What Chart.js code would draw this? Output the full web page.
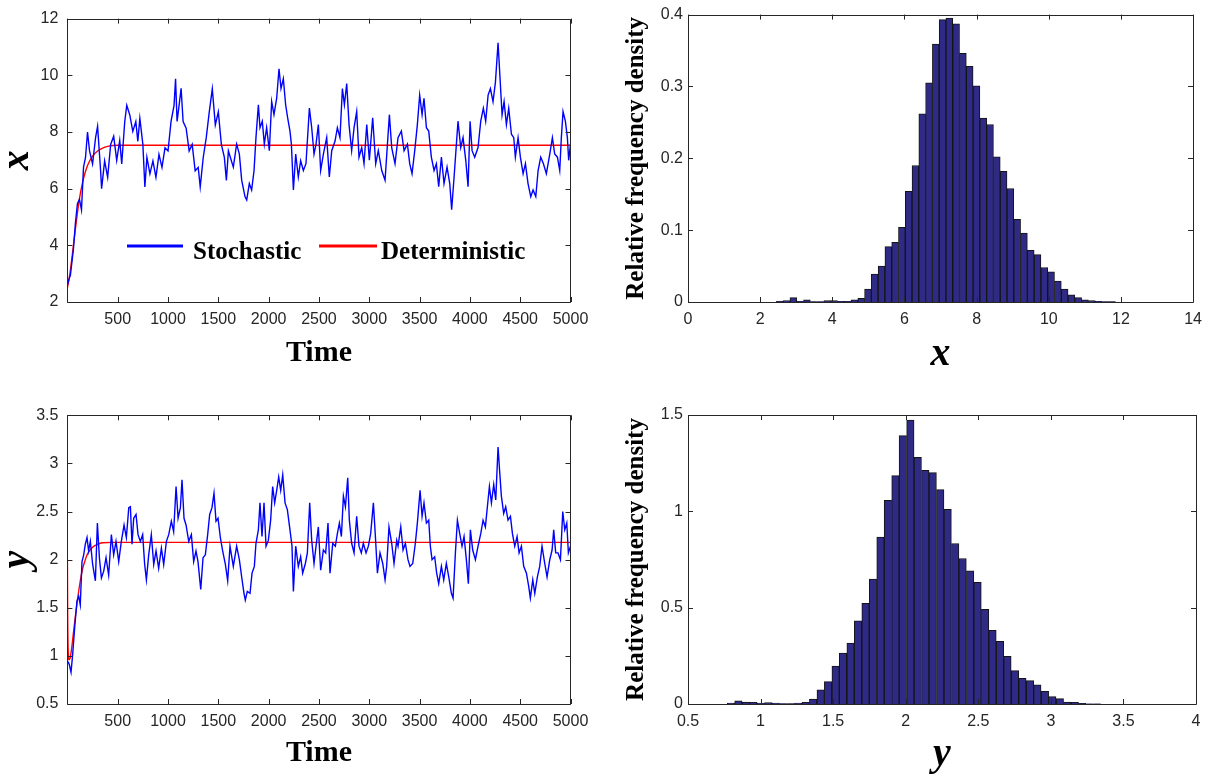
<!DOCTYPE html>
<html>
<head>
<meta charset="utf-8">
<script src="https://cdn.jsdelivr.net/npm/chart.js@4.4.1/dist/chart.umd.min.js"></script>
<style>
  body { margin: 0; background: #fff; }
  #wrap { position: relative; width: 1210px; height: 782px; background: #fff; }
  canvas { position: absolute; }
</style>
</head>
<body>
<div id="wrap">
  <canvas id="serieX" width="605" height="391" style="left:0;top:0"></canvas>
  <canvas id="histX" width="605" height="391" style="left:605px;top:0"></canvas>
  <canvas id="serieY" width="605" height="391" style="left:0;top:391px"></canvas>
  <canvas id="histY" width="605" height="391" style="left:605px;top:391px"></canvas>
</div>
<script>
// Serie x (estocástica)
const tX = [0,20,30,60,80,100,120,140,160,180,200,220,250,280,300,330,340,370,400,430,460,490,520,540,570,590,620,650,680,700,720,750,770,790,820,850,880,910,940,970,1000,1030,1060,1075,1090,1110,1130,1150,1180,1210,1240,1270,1300,1320,1350,1380,1410,1440,1470,1500,1530,1560,1580,1600,
  1649,1682,1709,1732,1765,1782,1808,1831,1855,1874,1898,1914,1937,1957,1980,2007,2030,2053,2080,2103,2123,2146,2169,2189,2212,2226,2246,2269,2295,2318,2345,2371,2405,2428,2451,2471,2494,2517,2544,2577,2603,2627,2660,2683,2709,2733,2753,2776,2799,2825,2849,2875,2898,2925,2948,2975,3001,3034,3064,3090,3124,3157,3200,3223,3256,
  3286,3319,3346,3379,3402,3425,3452,3478,3501,3525,3544,3568,3591,3617,3644,3667,3690,3717,3743,3773,3800,3819,3843,3866,3882,3909,3932,3959,3982,4002,4022,4048,4081,4108,4134,4157,4181,4204,4230,4254,4280,4300,4320,4340,4363,4386,4413,4436,4452,4479,4502,4529,4552,4578,4605,4628,4655,4678,4704,4731,4760,4794,4820,4843,4870,4893,4909,4926,4949,4969,4982,5000];
const xEstocastica = [2.6,2.85,2.95,3.87,4.8,5.48,5.62,5.25,6.75,7.1,8.0,7.33,6.87,7.8,8.2,6.63,6.0,6.98,6.4,7.56,7.85,7.0,7.7,6.87,8.37,8.94,8.6,8.02,8.37,7.67,8.48,7.56,6.06,7.1,6.52,6.98,6.4,7.21,6.75,7.44,7.33,8.37,8.94,9.88,8.37,8.94,9.54,8.37,8.13,7.33,7.56,6.63,6.75,6.06,7.1,7.8,8.71,9.52,8.25,8.71,7.56,7.1,6.29,7.33,
  6.76,7.57,7.22,6.3,5.72,5.6,6.18,5.95,6.64,7.8,8.96,8.15,8.38,7.57,8.15,7.34,9.07,8.61,9.19,10.23,9.53,9.88,8.96,8.5,8.03,7.57,5.95,7.22,6.41,6.99,6.64,6.88,8.84,8.15,7.22,7.57,8.26,6.64,7.22,7.8,6.41,7.34,7.68,8.15,7.8,9.53,8.96,9.71,8.26,7.34,8.15,8.72,7.11,7.45,6.88,8.26,7.0,8.5,6.88,7.34,6.64,6.3,8.61,7.45,6.88,
  7.8,8.03,7.34,7.57,6.88,6.53,7.34,8.26,9.3,8.61,9.19,8.15,8.03,7.11,6.64,6.88,6.07,7.11,6.18,6.76,6.18,5.26,6.41,7.57,8.38,7.45,7.8,7.0,6.07,8.38,7.34,7.11,7.45,8.38,8.84,8.38,9.3,9.53,9.07,9.76,11.15,9.88,8.61,9.07,8.26,8.84,7.92,7.8,7.11,7.8,7.11,6.53,6.88,6.18,5.72,5.95,5.72,6.64,7.11,6.88,6.53,7.22,7.8,7.22,7.11,6.64,7.8,8.72,8.38,7.8,7.0,7.57];

// Solución determinista de x
const tDetX = [0,25,50,75,100,125,150,175,200,250,300,350,400,450,500,5000];
const xDeterminista = [2.5,3.0,3.7,4.45,5.15,5.75,6.2,6.55,6.82,7.15,7.33,7.43,7.49,7.52,7.53,7.53];

// Serie y (estocástica)
const tY = [6,19,36,52,72,95,112,128,145,162,178,195,211,228,251,278,298,318,338,361,384,410,437,460,483,510,536,563,586,610,626,642,659,682,702,725,748,768,785,808,834,858,881,907,934,957,984,1007,1033,1056,1080,1100,1123,1139,1159,1179,1206,1232,1255,1278,1298,1325,1348,1371,1394,1414,1437,1457,1477,1497,1520,1543,1570,1593,
  1616,1649,1682,1709,1732,1755,1768,1788,1815,1835,1858,1874,1898,1914,1934,1954,1974,1997,2020,2040,2060,2080,2100,2120,2140,2163,2186,2212,2232,2246,2269,2295,2318,2338,2365,2385,2408,2428,2451,2471,2494,2517,2544,2567,2590,2610,2637,2663,2683,2703,2723,2743,2763,2786,2802,2825,2849,2875,2898,2921,2941,2968,2991,3014,3041,3061,3081,3107,3134,3157,3173,3196,3223,3246,3273,
  3286,3313,3336,3359,3385,3405,3432,3458,3478,3505,3525,3544,3568,3591,3607,3624,3650,3670,3690,3717,3740,3766,3790,3816,3833,3856,3876,3899,3922,3942,3965,3985,4005,4028,4055,4081,4108,4131,4154,4174,4194,4214,4237,4257,4280,4297,4313,4336,4356,4379,4403,4423,4446,4469,4489,4512,4535,4562,4585,4601,4625,4645,4671,4694,4717,4744,4767,4794,4817,4833,4853,4876,4900,4923,4943,4963,4979,5000];
const yEstocastica = [0.94,0.91,0.83,1.01,1.29,1.57,1.62,1.53,1.98,2.05,2.16,2.23,2.09,2.19,1.95,1.78,2.38,2.02,1.81,1.88,2.02,1.84,2.26,2.05,2.19,1.98,2.19,2.36,2.23,2.54,2.55,2.16,2.43,2.47,2.26,2.19,2.26,1.95,1.79,2.05,2.26,1.95,2.09,1.91,2.12,1.95,2.19,2.26,2.4,2.29,2.76,2.43,2.54,2.83,2.43,2.36,2.19,2.26,1.98,2.09,1.98,1.69,2.02,2.05,2.26,2.47,2.54,2.69,2.4,2.43,2.23,2.09,1.95,1.78,
  2.14,1.93,2.14,2.0,1.82,1.65,1.58,1.67,1.65,1.86,1.93,2.17,2.31,2.59,2.24,2.59,2.14,2.2,2.41,2.76,2.59,2.72,2.86,2.72,2.88,2.59,2.52,2.31,2.14,1.67,2.14,1.93,2.03,1.86,1.96,2.07,2.59,2.2,1.96,2.14,2.34,1.89,2.1,2.07,2.38,1.86,2.17,2.14,2.27,2.38,2.24,2.66,2.55,2.85,2.41,2.17,2.07,2.45,2.14,2.07,2.17,2.07,2.14,2.27,2.59,2.24,1.86,2.07,1.96,1.79,1.93,2.34,2.17,1.96,2.2,
  2.14,2.34,2.1,2.17,2.0,1.93,1.96,2.17,2.38,2.72,2.45,2.59,2.38,2.41,2.14,2.0,2.03,1.86,1.75,1.93,1.79,1.96,1.82,1.65,1.6,2.07,2.41,2.27,2.14,2.24,2.0,1.75,2.31,2.1,2.0,2.14,2.27,2.41,2.34,2.55,2.76,2.59,2.78,2.62,3.17,2.9,2.66,2.48,2.55,2.41,2.45,2.27,2.14,2.24,2.07,2.14,1.93,1.86,1.72,1.6,1.79,1.65,1.82,1.93,2.14,1.96,1.82,2.0,2.1,2.31,2.07,2.07,2.0,2.5,2.31,2.38,2.07,2.14];

// Solución determinista de y
const tDetY = [0,3,8,15,25,40,60,80,100,125,150,175,200,250,300,350,450,5000];
const yDeterminista = [2.0,1.4,1.05,0.96,0.97,1.06,1.24,1.42,1.58,1.76,1.9,1.99,2.06,2.13,2.16,2.175,2.18,2.18];

// Histograma de x: centros de clase y densidad
const clasesX = [2.544,2.732,2.920,3.108,3.296,3.484,3.672,3.860,4.048,4.236,4.424,4.612,4.800,4.988,5.176,5.364,5.552,5.740,5.928,6.116,6.304,6.492,6.680,6.868,7.056,7.244,7.432,7.620,7.808,7.996,8.184,8.372,8.560,8.748,8.936,9.124,9.312,9.500,9.688,9.876,10.064,10.252,10.440,10.628,10.816,11.004,11.192,11.380,11.568,11.756];
const densidadX = [0.001,0.002,0.006,0.001,0.003,0.0005,0.0005,0.002,0.002,0.001,0.001,0.003,0.005,0.018,0.039,0.050,0.077,0.083,0.104,0.154,0.190,0.262,0.305,0.359,0.393,0.395,0.387,0.346,0.328,0.301,0.256,0.247,0.202,0.182,0.158,0.115,0.096,0.072,0.066,0.048,0.042,0.029,0.018,0.010,0.006,0.003,0.002,0.001,0.0005,0.0005];

// Histograma de y
const clasesY = [0.796,0.847,0.899,0.950,1.002,1.053,1.105,1.156,1.208,1.259,1.311,1.362,1.414,1.465,1.517,1.568,1.620,1.671,1.723,1.774,1.826,1.877,1.929,1.980,2.032,2.083,2.135,2.186,2.238,2.289,2.341,2.392,2.444,2.495,2.547,2.598,2.650,2.701,2.753,2.804,2.856,2.907,2.959,3.010,3.062,3.113,3.165,3.216,3.268,3.319];
const densidadY = [0.005,0.017,0.01,0.009,0.005,0.007,0.005,0.002,0.002,0.005,0.009,0.026,0.074,0.116,0.197,0.264,0.316,0.432,0.522,0.648,0.867,1.057,1.185,1.393,1.474,1.280,1.213,1.201,1.113,1.011,0.833,0.755,0.691,0.632,0.491,0.382,0.325,0.247,0.173,0.133,0.121,0.100,0.066,0.038,0.028,0.010,0.009,0.003,0.001,0.001];

const tinta = '#262626';
const sans = "'Liberation Sans', Arial, sans-serif";
const serif = "'Liberation Serif', 'Times New Roman', serif";
const fuenteTicks = { family: sans, size: 16 };

function puntos(xs, ys) {
  return xs.map((x, i) => ({ x: x, y: ys[i] }));
}

// Caja con marcas hacia dentro, como en MATLAB
const caja = {
  id: 'caja',
  afterDraw(chart) {
    const { ctx, chartArea: a, scales: { x, y } } = chart;
    ctx.save();
    ctx.strokeStyle = tinta;
    ctx.lineWidth = 1;
    ctx.beginPath();
    x.ticks.forEach(t => {
      const px = Math.round(x.getPixelForValue(t.value)) + 0.5;
      ctx.moveTo(px, a.bottom); ctx.lineTo(px, a.bottom - 5);
      ctx.moveTo(px, a.top); ctx.lineTo(px, a.top + 5);
    });
    y.ticks.forEach(t => {
      const py = Math.round(y.getPixelForValue(t.value)) + 0.5;
      ctx.moveTo(a.left, py); ctx.lineTo(a.left + 5, py);
      ctx.moveTo(a.right, py); ctx.lineTo(a.right - 5, py);
    });
    ctx.rect(Math.round(a.left) + 0.5, Math.round(a.top) + 0.5, Math.round(a.right - a.left), Math.round(a.bottom - a.top));
    ctx.stroke();
    ctx.restore();
  }
};

const leyenda = {
  id: 'leyenda',
  afterDatasetsDraw(chart) {
    const ctx = chart.ctx;
    const ds = chart.data.datasets;
    const items = [
      { x1: 127, x2: 183, tx: 193, d: ds[0] },
      { x1: 319, x2: 377, tx: 381, d: ds[1] }
    ];
    ctx.save();
    ctx.font = 'bold 25px ' + serif;
    ctx.textBaseline = 'alphabetic';
    ctx.fillStyle = '#000';
    items.forEach(it => {
      ctx.strokeStyle = it.d.borderColor;
      ctx.lineWidth = 3;
      ctx.beginPath();
      ctx.moveTo(it.x1, 246); ctx.lineTo(it.x2, 246);
      ctx.stroke();
      ctx.fillText(it.d.label, it.tx, 259);
    });
    ctx.restore();
  }
};

const numero = v => String(Math.round(v * 100) / 100);
const sinCero = v => (v === 0 ? '' : numero(v));

function opciones(c) {
  return {
    responsive: false,
    animation: false,
    events: [],
    layout: { padding: { left: 0, top: c.top, right: c.right, bottom: 0 } },
    plugins: { legend: { display: false }, tooltip: { enabled: false } },
    elements: { point: { radius: 0 } },
    scales: {
      x: {
        type: 'linear', min: c.xMin, max: c.xMax, offset: false,
        grid: { display: false, drawTicks: false }, border: { display: false },
        afterFit: s => { s.height = c.xH; },
        ticks: { stepSize: c.xStep, autoSkip: false, maxRotation: 0, padding: 8, color: tinta, font: fuenteTicks,
          callback: c.xLabel || numero },
        title: { display: true, text: c.xTitle, color: '#000', font: c.xTitleFont, padding: { top: 0, bottom: c.xTitlePad } }
      },
      y: {
        min: c.yMin, max: c.yMax,
        grid: { display: false, drawTicks: false }, border: { display: false },
        afterFit: s => { s.width = c.yW; },
        ticks: { stepSize: c.yStep, autoSkip: false, padding: c.yPad, color: tinta, font: fuenteTicks, callback: numero },
        title: { display: true, text: c.yTitle, color: '#000', font: c.yTitleFont, padding: { top: c.yTitlePad, bottom: 0 } }
      }
    }
  };
}

const fuenteVar = { family: serif, size: 40, weight: 'bold', style: 'italic', lineHeight: 1 };
const fuenteVarY = { family: serif, size: 40, weight: 'bold', style: 'italic', lineHeight: 0.875 };
const fuenteTime = { family: serif, size: 30, weight: 'bold', lineHeight: 1.2 };
const fuenteDens = { family: serif, size: 25, weight: 'bold', lineHeight: 1.2 };

new Chart(document.getElementById('serieX'), {
  type: 'line',
  data: {
    datasets: [
      { label: 'Stochastic', data: puntos(tX, xEstocastica), borderColor: '#0000ff', borderWidth: 1.4, tension: 0 },
      { label: 'Deterministic', data: puntos(tDetX, xDeterminista), borderColor: '#ff0000', borderWidth: 1.4, cubicInterpolationMode: 'monotone' }
    ]
  },
  options: opciones({ top: 13.6, right: 34.5, xH: 89, yW: 67.4, xMin: 0, xMax: 5000, xStep: 500, xLabel: sinCero,
    yMin: 2, yMax: 12, yStep: 2, yPad: 9, xTitle: 'Time', xTitleFont: fuenteTime, xTitlePad: 20,
    yTitle: 'x', yTitleFont: fuenteVarY, yTitlePad: 0 }),
  plugins: [caja, leyenda]
});

new Chart(document.getElementById('histX'), {
  type: 'bar',
  data: {
    datasets: [{ data: puntos(clasesX, densidadX), backgroundColor: '#2f2a85', borderColor: '#141414', borderWidth: 1,
      barPercentage: 1, categoryPercentage: 1 }]
  },
  options: opciones({ top: 14, right: 14, xH: 89, yW: 83, xMin: 0, xMax: 14, xStep: 2,
    yMin: 0, yMax: 0.4, yStep: 0.1, yPad: 5, xTitle: 'x', xTitleFont: fuenteVar, xTitlePad: 16.5,
    yTitle: 'Relative frequency density', yTitleFont: fuenteDens, yTitlePad: 17 }),
  plugins: [caja]
});

new Chart(document.getElementById('serieY'), {
  type: 'line',
  data: {
    datasets: [
      { label: 'Stochastic', data: puntos(tY, yEstocastica), borderColor: '#0000ff', borderWidth: 1.4, tension: 0 },
      { label: 'Deterministic', data: puntos(tDetY, yDeterminista), borderColor: '#ff0000', borderWidth: 1.4, cubicInterpolationMode: 'monotone' }
    ]
  },
  options: opciones({ top: 24.3, right: 34.5, xH: 78, yW: 67.4, xMin: 0, xMax: 5000, xStep: 500, xLabel: sinCero,
    yMin: 0.5, yMax: 3.5, yStep: 0.5, yPad: 9, xTitle: 'Time', xTitleFont: fuenteTime, xTitlePad: 11,
    yTitle: 'y', yTitleFont: fuenteVarY, yTitlePad: 0 }),
  plugins: [caja]
});

new Chart(document.getElementById('histY'), {
  type: 'bar',
  data: {
    datasets: [{ data: puntos(clasesY, densidadY), backgroundColor: '#2f2a85', borderColor: '#141414', borderWidth: 1,
      barPercentage: 1, categoryPercentage: 1 }]
  },
  options: opciones({ top: 24, right: 14, xH: 78, yW: 83, xMin: 0.5, xMax: 4, xStep: 0.5,
    yMin: 0, yMax: 1.5, yStep: 0.5, yPad: 5, xTitle: 'y', xTitleFont: fuenteVar, xTitlePad: 7.5,
    yTitle: 'Relative frequency density', yTitleFont: fuenteDens, yTitlePad: 17 }),
  plugins: [caja]
});
</script>
</body>
</html>
